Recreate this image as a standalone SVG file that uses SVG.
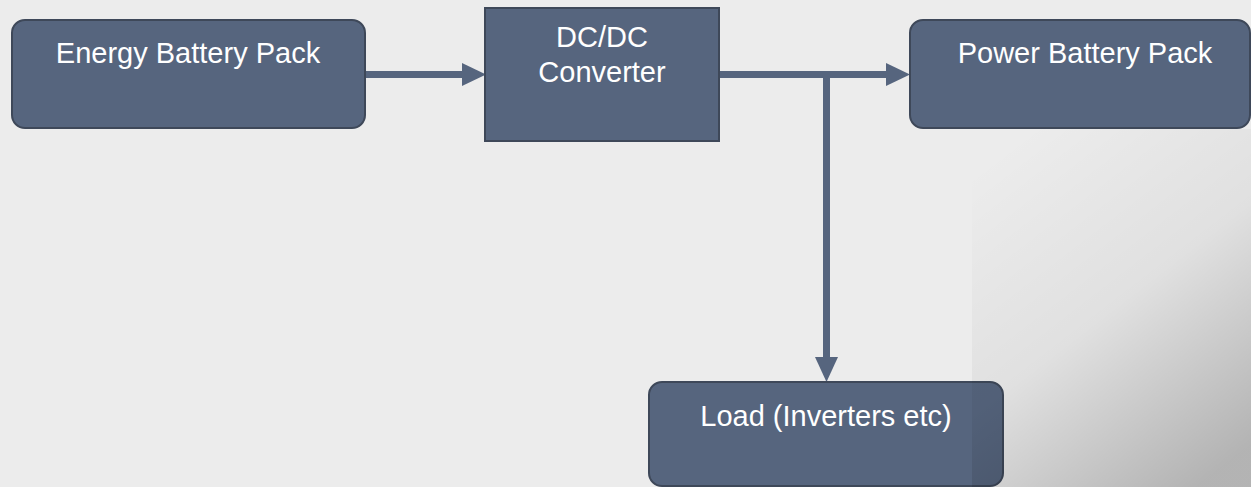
<svg xmlns="http://www.w3.org/2000/svg" width="1251" height="487" viewBox="0 0 1251 487">
  <style>
    .box { fill: #56657e; stroke: #3e4859; stroke-width: 2; }
    .label { fill: #ffffff; font-family: "Liberation Sans", Arial, sans-serif; font-size: 29px; text-anchor: middle; }
    .wire { stroke: #56657e; stroke-width: 7; fill: none; }
    .head { fill: #56657e; }
  </style>
  <defs>
    <linearGradient id="shade" x1="0.2" y1="0" x2="0.8" y2="1">
      <stop offset="0" stop-color="#000" stop-opacity="0"/>
      <stop offset="0.5" stop-color="#000" stop-opacity="0.05"/>
      <stop offset="1" stop-color="#000" stop-opacity="0.24"/>
    </linearGradient>
  </defs>

  <!-- page background -->
  <rect x="0" y="0" width="1251" height="487" fill="#ececec"/>

  <!-- connectors -->
  <g id="connectors">
    <line class="wire" x1="365" y1="74.5" x2="466" y2="74.5"/>
    <polygon class="head" points="462,63 486,74.5 462,86"/>
    <line class="wire" x1="719" y1="74.5" x2="890" y2="74.5"/>
    <polygon class="head" points="886,63 910,74.5 886,86"/>
    <line class="wire" x1="826.5" y1="71" x2="826.5" y2="362"/>
    <polygon class="head" points="815,357 838,357 826.5,382"/>
  </g>

  <g id="energy-pack">
    <rect class="box" x="12" y="20" width="353" height="108" rx="13"/>
    <text class="label" x="188" y="63">Energy Battery Pack</text>
  </g>

  <g id="dcdc-converter">
    <rect class="box" x="485" y="8" width="234" height="133"/>
    <text class="label" x="602" y="47">DC/DC</text>
    <text class="label" x="602" y="82">Converter</text>
  </g>

  <g id="power-pack">
    <rect class="box" x="910" y="20" width="340" height="108" rx="13"/>
    <text class="label" x="1085" y="63">Power Battery Pack</text>
  </g>

  <g id="load">
    <rect class="box" x="649" y="382" width="354" height="104" rx="13"/>
    <text class="label" x="826" y="426">Load (Inverters etc)</text>
  </g>

  <!-- shaded panel in the lower right corner -->
  <rect x="972" y="129" width="279" height="358" fill="url(#shade)"/>
</svg>
